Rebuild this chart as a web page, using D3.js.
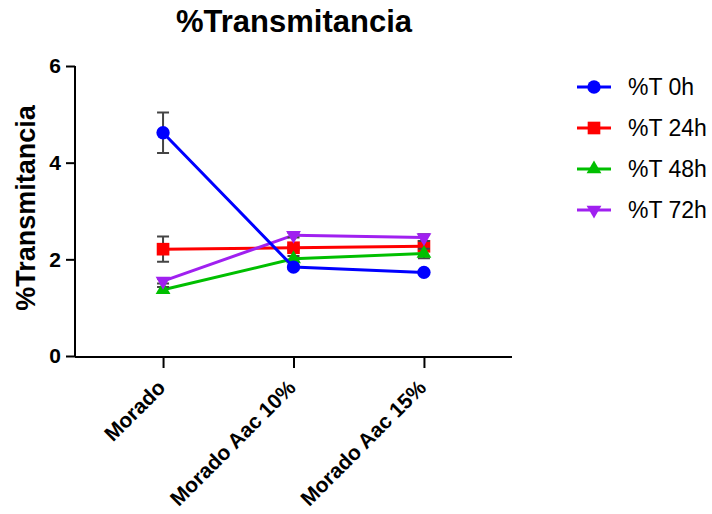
<!DOCTYPE html>
<html>
<head>
<meta charset="utf-8">
<script src="https://cdn.jsdelivr.net/npm/d3@7"></script>
<style>
  body { margin: 0; background: #fff; }
  svg { font-family: Arial, "Liberation Sans", Helvetica, sans-serif; }
</style>
</head>
<body>
<div id="chart"></div>
<script>
const categories = ['Morado', 'Morado Aac 10%', 'Morado Aac 15%']
const seriesNames = ['%T 0h', '%T 24h', '%T 48h', '%T 72h']
const yTicks = [0, 2, 4, 6]

const t0 = [4.62, 1.84, 1.73]
const t0Err = [0.42, 0.03, 0.03]
const t24 = [2.21, 2.24, 2.27]
const t24Err = [0.26, 0.04, 0.08]
const t48 = [1.37, 2.01, 2.12]
const t48Err = [0.06, 0.06, 0.10]
const t72 = [1.55, 2.50, 2.45]
const t72Err = [0.05, 0.05, 0.07]

const colors = ['#0000ff', '#ff0000', '#00bf00', '#a020f0']
const shapes = ['circle', 'square', 'up', 'down']

const series = [
  {name: seriesNames[0], values: t0, err: t0Err, color: colors[0], shape: shapes[0]},
  {name: seriesNames[1], values: t24, err: t24Err, color: colors[1], shape: shapes[1]},
  {name: seriesNames[2], values: t48, err: t48Err, color: colors[2], shape: shapes[2]},
  {name: seriesNames[3], values: t72, err: t72Err, color: colors[3], shape: shapes[3]}
]

const width = 712, height = 514

const svg = d3.select('#chart').append('svg')
.attr('width', width)
.attr('height', height)

const xScale = d3.scalePoint()
.domain(categories)
.range([75, 512])
.padding(0.675)

const yScale = d3.scaleLinear()
.domain([0, 6])
.range([356, 66])

// title
svg.append('text')
.attr('x', 294)
.attr('y', 32)
.attr('text-anchor', 'middle')
.style('font-weight', 'bold')
.style('font-size', '31px')
.text('%Transmitancia')

svg.append('text')
.attr('transform', 'translate(35,208) rotate(-90)')
.attr('text-anchor', 'middle')
.style('font-weight', 'bold')
.style('font-size', '27px')
.text('%Transmitancia')

// axes
const yAxis = svg.append('g')
.attr('transform', 'translate(75,0)')
.call(d3.axisLeft(yScale).tickValues(yTicks).tickFormat(d3.format('d')).tickSize(9).tickSizeOuter(0).tickPadding(5))

yAxis.selectAll('text')
.style('font-size', '21px')
.style('font-weight', 'bold')
.attr('fill', '#000')

const xAxis = svg.append('g')
.attr('transform', 'translate(0,357)')
.call(d3.axisBottom(xScale).tickSize(11).tickSizeOuter(0))

xAxis.select('.domain').attr('d', 'M75,0H512')

xAxis.selectAll('text')
.attr('x', 0)
.attr('y', 0)
.attr('dy', 0)
.attr('text-anchor', 'end')
.attr('transform', 'translate(3,32) rotate(-45)')
.style('font-size', '21px')
.style('font-weight', 'bold')
.attr('fill', '#000')

svg.selectAll('.domain, .tick line')
.attr('stroke', '#000')
.attr('stroke-width', 2)

yAxis.select('.domain').attr('d', 'M0,66V357')

const symbolPath = (shape) => {
  if (shape === 'circle') return d3.symbol().type(d3.symbolCircle).size(140)()
  if (shape === 'square') return d3.symbol().type(d3.symbolSquare).size(160)()
  return d3.symbol().type(d3.symbolTriangle).size(95)()
}

const line = d3.line()
.x((d, i) => xScale(categories[i]))
.y(d => yScale(d))

const plot = svg.append('g')

const order = [1, 2, 3, 0]

order.forEach(si => {
  const s = series[si]
  const g = plot.append('g')

  g.append('path')
  .attr('d', line(s.values))
  .attr('fill', 'none')
  .attr('stroke', s.color)
  .attr('stroke-width', 3)

  s.values.forEach((v, i) => {
    const x = xScale(categories[i])
    const e = s.err[i]

    g.append('path')
    .attr('d', `M${x - 6},${yScale(v + e)}H${x + 6}M${x},${yScale(v + e)}V${yScale(v - e)}M${x - 6},${yScale(v - e)}H${x + 6}`)
    .attr('stroke', '#444')
    .attr('stroke-width', 2)
    .attr('fill', 'none')

    g.append('path')
    .attr('d', symbolPath(s.shape))
    .attr('transform', `translate(${x},${yScale(v)})` + (s.shape === 'down' ? ' rotate(180)' : ''))
    .attr('fill', s.color)
  })
})

// legend
const legend = svg.append('g')

series.forEach((s, i) => {
  const y = 87 + i * 41
  legend.append('line')
  .attr('x1', 577).attr('x2', 611)
  .attr('y1', y).attr('y2', y)
  .attr('stroke', s.color)
  .attr('stroke-width', 3)

  legend.append('path')
  .attr('d', symbolPath(s.shape))
  .attr('transform', `translate(594,${y})` + (s.shape === 'down' ? ' rotate(180)' : ''))
  .attr('fill', s.color)

  legend.append('text')
  .attr('x', 628)
  .attr('y', y)
  .attr('dy', '0.36em')
  .style('font-size', '23px')
  .text(s.name)
})
</script>
</body>
</html>
